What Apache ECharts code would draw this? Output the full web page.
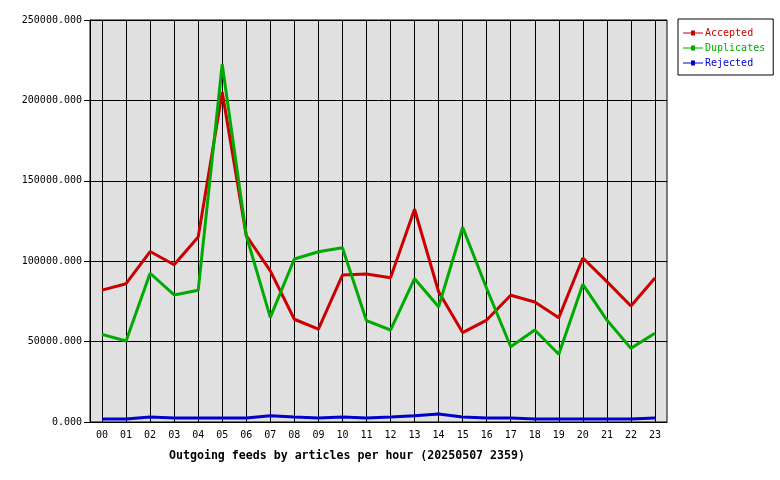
<!DOCTYPE html>
<html>
<head>
<meta charset="utf-8">
<script src="https://cdn.jsdelivr.net/npm/echarts@6/dist/echarts.min.js"></script>
<style>html,body{margin:0;padding:0;background:#fff}#c{width:780px;height:480px}</style>
</head>
<body>
<div id="c"></div>
<script>
const hours = ['00','01','02','03','04','05','06','07','08','09','10','11','12','13','14','15','16','17','18','19','20','21','22','23'];
const accepted = [82000,86000,106000,97800,115000,205000,116000,94000,63900,57800,91400,92000,89700,132300,81000,55600,63400,78800,74600,64900,102000,87300,72100,89600];
const duplicates = [54500,50400,92500,79000,81900,222500,116000,65100,101400,105900,108400,63000,57200,89100,71700,121100,83000,46800,57200,42100,85600,63400,45800,55200];
const rejected = [1900,1900,3100,2500,2500,2500,2500,3900,3100,2500,3100,2500,3100,3900,5000,3100,2500,2500,1900,1900,1900,1900,1900,2500];
const yTicks = [0,50000,100000,150000,200000,250000];

const FONT = '"DejaVu Sans Mono", monospace';
const icon = 'path://M0,3.5h8v-2h4v5h-4v-2h-8z M12,3.5h8v1h-8z';
const chart = echarts.init(document.getElementById('c'), null, {renderer:'canvas'});
function mk(name, data, color){
  return {name, type:'line', data, showSymbol:false, symbol:'none', lineStyle:{color, width:3}, itemStyle:{color}, animation:false};
}
chart.setOption({
  animation:false,
  backgroundColor:'#fff',
  grid:{left:90, top:20, width:577, height:402, show:true, backgroundColor:'#e0e0e0', borderColor:'#000', borderWidth:1},
  title:{text:'Outgoing feeds by articles per hour (20250507 2359)', left:164, top:445,
    textStyle:{fontFamily:FONT, fontSize:11.6, fontWeight:'bold', color:'#000'}},
  legend:{orient:'vertical', left:678, top:19, width:95, padding:[9,8,7,5], itemGap:5, itemWidth:20, itemHeight:8,
    backgroundColor:'#fff', borderColor:'#000', borderWidth:1, borderRadius:0,
    textStyle:{fontFamily:FONT, fontSize:10, padding:[0,0,0,-3]},
    data:[{name:'Accepted', icon, textStyle:{color:'#cc0000'}},{name:'Duplicates', icon, textStyle:{color:'#00aa00'}},{name:'Rejected', icon, textStyle:{color:'#0000cc'}}]},
  xAxis:{type:'category', data:hours, boundaryGap:true,
    axisLine:{lineStyle:{color:'#000', width:1}},
    axisTick:{alignWithLabel:true, length:5, lineStyle:{color:'#000'}},
    axisLabel:{fontFamily:FONT, fontSize:10, color:'#000', margin:8, interval:0},
    splitLine:{show:true, alignWithLabel:true, lineStyle:{color:'#000', width:1}}},
  yAxis:{type:'value', min:yTicks[0], max:yTicks[yTicks.length-1], interval:yTicks[1]-yTicks[0],
    axisLine:{show:true, lineStyle:{color:'#000'}},
    axisTick:{show:true, length:6, lineStyle:{color:'#000'}},
    axisLabel:{fontFamily:FONT, fontSize:10, color:'#000', margin:8, formatter:v=>v.toFixed(3)},
    splitLine:{show:true, lineStyle:{color:'#000', width:1}}},
  series:[mk('Accepted', accepted, '#cc0000'), mk('Duplicates', duplicates, '#00aa00'), mk('Rejected', rejected, '#0000cc')]
});
</script>
</body>
</html>
